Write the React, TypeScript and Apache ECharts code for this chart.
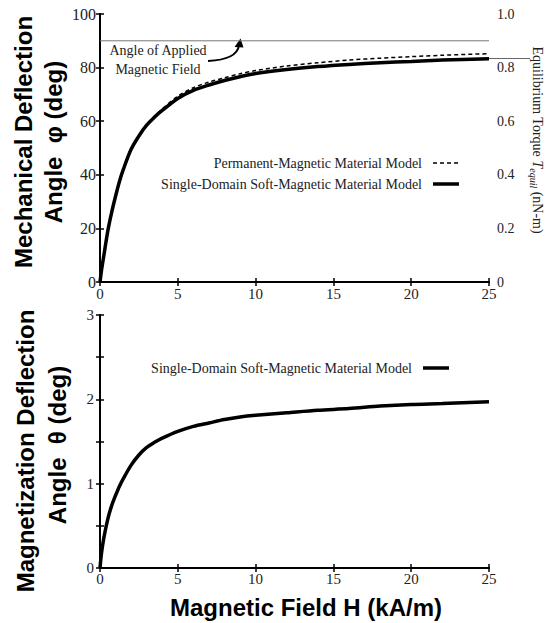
import React, { useEffect, useRef } from "react";
import * as echarts from "echarts";

// Magnetic field H (kA/m)
const fieldH = [0, 0.1, 0.25, 0.5, 0.75, 1, 1.25, 1.5, 2, 2.5, 3, 3.5, 4, 5, 6, 7, 8, 9, 10, 12, 14, 16, 18, 20, 22, 25];
// Mechanical deflection angle phi (deg), single-domain soft-magnetic model
const phiSoft = [0, 4.5, 10, 19, 26, 32, 37.5, 42, 49.5, 54.5, 58.5, 61.5, 64, 68.5, 71.5, 73.5, 75.2, 76.6, 77.8, 79.3, 80.4, 81.2, 81.8, 82.3, 82.8, 83.3];
// Mechanical deflection angle phi (deg), permanent-magnetic model
const phiPerm = [0, 4.5, 10, 19, 26, 32, 37.5, 42, 49.5, 54.7, 58.8, 61.9, 64.6, 69.3, 72.5, 74.6, 76.2, 77.7, 78.9, 80.6, 81.8, 82.8, 83.5, 84.1, 84.6, 85.2];
// Magnetization deflection angle theta (deg), single-domain soft-magnetic model
const thetaSoft = [0, 0.18, 0.36, 0.58, 0.74, 0.86, 0.97, 1.06, 1.22, 1.34, 1.43, 1.49, 1.54, 1.62, 1.68, 1.72, 1.76, 1.79, 1.81, 1.84, 1.87, 1.89, 1.92, 1.94, 1.95, 1.97];
const appliedAngle = 90;

const xTicks = [0, 5, 10, 15, 20, 25];
const legendTop = ["Permanent-Magnetic Material Model", "Single-Domain Soft-Magnetic Material Model"];
const legendBottom = ["Single-Domain Soft-Magnetic Material Model"];

const SERIF = "'Liberation Serif', 'DejaVu Serif', serif";
const SANS = "'Liberation Sans', Arial, sans-serif";

const pair = (xs: number[], ys: number[]) => xs.map((x, i) => [x, ys[i]]);

export default function App() {
  const ref = useRef<HTMLDivElement>(null);
  useEffect(() => {
    if (!ref.current) return;
    const chart = echarts.init(ref.current, undefined, { renderer: "svg" });
    const axLine = { show: true, lineStyle: { color: "#000", width: 2 } };
    const tick = { show: true, inside: true, length: 4, lineStyle: { color: "#000", width: 1.5 } };
    const lbl = { color: "#222", fontFamily: SERIF, fontSize: 15 };
    const xBase = { type: "value", min: xTicks[0], max: xTicks[xTicks.length - 1], interval: 5, splitLine: { show: false }, axisLine: axLine, axisTick: tick };
    const titleFont = `bold 24px ${SANS}`;
    const option: any = {
      animation: false,
      grid: [
        { left: 100, right: 57, top: 14, height: 268 },
        { left: 100, right: 57, top: 315, height: 253 },
      ],
      xAxis: [
        { ...xBase, gridIndex: 0, position: "bottom", axisLabel: { ...lbl, margin: 4 } },
        { ...xBase, gridIndex: 0, position: "top", axisLabel: { show: false } },
        { ...xBase, gridIndex: 1, position: "bottom", axisLabel: { ...lbl, margin: 3 } },
        { ...xBase, gridIndex: 1, position: "top", axisLabel: { show: false } },
      ],
      yAxis: [
        { type: "value", gridIndex: 0, position: "left", min: 0, max: 100, interval: 20, splitLine: { show: false }, axisLine: axLine, axisTick: tick, axisLabel: { ...lbl, fontSize: 16, margin: 4 } },
        { type: "value", gridIndex: 0, position: "right", min: 0, max: 1, interval: 0.2, splitLine: { show: false }, axisLine: axLine, axisTick: tick,
          axisLabel: { ...lbl, fontSize: 14, margin: 8, formatter: (v: number) => (v === 0 ? "0" : v.toFixed(1)) } },
        { type: "value", gridIndex: 1, position: "left", min: 0, max: 3, interval: 0.5, splitLine: { show: false }, axisLine: axLine, axisTick: tick,
          axisLabel: { ...lbl, fontSize: 15, margin: 6, formatter: (v: number) => (Number.isInteger(v) ? String(v) : "") } },
        { type: "value", gridIndex: 1, position: "right", min: 0, max: 3, interval: 0.5, splitLine: { show: false }, axisLine: axLine, axisTick: tick, axisLabel: { show: false } },
      ],
      series: [
        { type: "line", xAxisIndex: 0, yAxisIndex: 0, data: [[0, appliedAngle], [25, appliedAngle]], symbol: "none", lineStyle: { color: "#777", width: 1 }, silent: true },
        { type: "line", name: legendTop[0], xAxisIndex: 0, yAxisIndex: 0, data: pair(fieldH, phiPerm), symbol: "none", smooth: 0.3, lineStyle: { color: "#000", width: 1.5, type: [4, 3] } },
        { type: "line", name: legendTop[1], xAxisIndex: 0, yAxisIndex: 0, data: pair(fieldH, phiSoft), symbol: "none", smooth: 0.3, lineStyle: { color: "#000", width: 3.5 } },
        { type: "line", name: legendBottom[0], xAxisIndex: 2, yAxisIndex: 2, data: pair(fieldH, thetaSoft), symbol: "none", smooth: 0.3, lineStyle: { color: "#000", width: 3.5 } },
      ],
      graphic: [
        // Axis titles
        { type: "text", x: 23, y: 142, rotation: Math.PI / 2, style: { text: "Mechanical Deflection", font: titleFont, fill: "#000", align: "center", verticalAlign: "middle" } },
        { type: "text", x: 53, y: 142, rotation: Math.PI / 2, style: { text: "Angle  φ (deg)", font: titleFont, fill: "#000", align: "center", verticalAlign: "middle" } },
        { type: "text", x: 25, y: 451, rotation: Math.PI / 2, style: { text: "Magnetization Deflection", font: titleFont, fill: "#000", align: "center", verticalAlign: "middle" } },
        { type: "text", x: 57, y: 445, rotation: Math.PI / 2, style: { text: "Angle  θ (deg)", font: titleFont, fill: "#000", align: "center", verticalAlign: "middle" } },
        { type: "text", x: 306, y: 607, style: { text: "Magnetic Field H (kA/m)", font: titleFont, fill: "#000", align: "center", verticalAlign: "middle" } },
        // Right axis title
        { type: "text", x: 537, y: 140, rotation: -Math.PI / 2, style: {
            text: "Equilibrium Torque {i|T}{sub|equil} (nN-m)", fontFamily: SERIF, fontSize: 14, fill: "#222", align: "center", verticalAlign: "middle",
            rich: { i: { fontFamily: SERIF, fontSize: 14, fontStyle: "italic", fill: "#222" }, sub: { fontFamily: SERIF, fontSize: 10, fontStyle: "italic", fill: "#222", padding: [7, 0, 0, 0] } } } },
        { type: "line", shape: { x1: 489, y1: 58.5, x2: 530, y2: 58.5 }, style: { stroke: "#666", lineWidth: 1 } },
        // Annotation
        { type: "text", x: 158, y: 50, style: { text: "Angle of Applied", font: `14px ${SERIF}`, fill: "#222", align: "center", verticalAlign: "middle" } },
        { type: "text", x: 158, y: 69, style: { text: "Magnetic Field", font: `14px ${SERIF}`, fill: "#222", align: "center", verticalAlign: "middle" } },
        { type: "bezierCurve", shape: { x1: 208, y1: 61, cpx1: 228, cpy1: 60, cpx2: 238, cpy2: 54, x2: 239, y2: 45 }, style: { stroke: "#000", lineWidth: 2, fill: "none" } },
        { type: "polygon", shape: { points: [[240.5, 38.5], [234.5, 47], [243.5, 47.5]] }, style: { fill: "#000" } },
        // Top legend
        { type: "text", x: 422, y: 163, style: { text: legendTop[0], font: `14px ${SERIF}`, fill: "#222", align: "right", verticalAlign: "middle" } },
        { type: "line", shape: { x1: 433, y1: 163, x2: 459, y2: 163 }, style: { stroke: "#000", lineWidth: 1.5, lineDash: [4, 3] } },
        { type: "text", x: 422, y: 184, style: { text: legendTop[1], font: `14px ${SERIF}`, fill: "#222", align: "right", verticalAlign: "middle" } },
        { type: "line", shape: { x1: 433, y1: 184, x2: 459, y2: 184 }, style: { stroke: "#000", lineWidth: 3.5 } },
        // Bottom legend
        { type: "text", x: 412, y: 368, style: { text: legendBottom[0], font: `14px ${SERIF}`, fill: "#222", align: "right", verticalAlign: "middle" } },
        { type: "line", shape: { x1: 423, y1: 368, x2: 449, y2: 368 }, style: { stroke: "#000", lineWidth: 3.5 } },
      ],
    };
    chart.setOption(option);
    return () => chart.dispose();
  }, []);
  return <div ref={ref} style={{ width: 546, height: 623, position: "absolute", left: 0, top: 0, background: "#fff" }} />;
}
